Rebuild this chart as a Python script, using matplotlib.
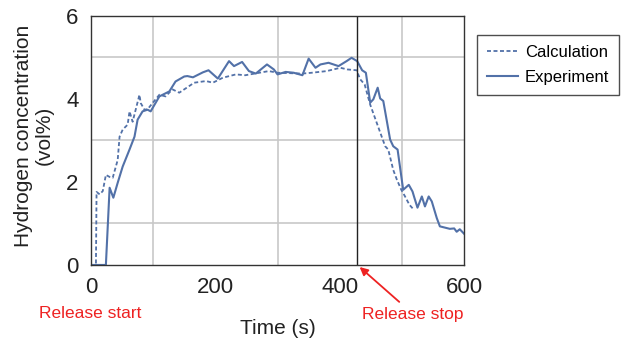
import matplotlib.pyplot as plt

plt.rcParams['font.family'] = ['Liberation Sans', 'DejaVu Sans']

# Experiment (solid line)
t_exp = [0, 24, 30, 36, 43, 51, 62, 70, 75, 83, 91, 96, 110, 126, 136, 150, 155, 164,
         180, 189, 204, 222, 230, 243, 254, 265, 283, 294, 300, 313, 326, 340, 350, 361,
         369, 382, 398, 411, 419, 428, 436, 442, 449, 454, 461, 465, 470, 481, 486, 493,
         502, 511, 517, 520, 525, 532, 537, 543, 548, 556, 561, 577, 584, 588, 593, 600]
v_exp = [0, 0, 1.86, 1.62, 1.98, 2.37, 2.78, 3.09, 3.5, 3.7, 3.74, 3.7, 4.06, 4.18, 4.42,
         4.54, 4.55, 4.52, 4.64, 4.69, 4.49, 4.91, 4.79, 4.89, 4.67, 4.61, 4.83, 4.71, 4.59,
         4.65, 4.63, 4.57, 4.97, 4.75, 4.83, 4.87, 4.79, 4.91, 4.99, 4.91, 4.69, 4.63, 3.91,
         3.99, 4.27, 4.01, 3.95, 3.02, 2.86, 2.78, 1.81, 1.93, 1.77, 1.62, 1.38, 1.65, 1.41,
         1.65, 1.53, 1.13, 0.93, 0.87, 0.88, 0.8, 0.86, 0.75]

# Calculation (dashed line)
t_calc = [0, 8, 9, 14, 19, 24, 30, 35, 43, 46, 51, 59, 62, 67, 78, 80, 86, 91, 110, 120,
          131, 142, 166, 185, 196, 212, 233, 248, 286, 300, 340, 355, 379, 401, 412, 427,
          433, 440, 449, 473, 478, 486, 492, 499, 505, 512, 518]
v_calc = [0, 0, 1.76, 1.7, 1.78, 2.17, 2.12, 2.1, 2.53, 3.09, 3.26, 3.38, 3.7, 3.45, 4.1,
          3.9, 3.74, 3.75, 4.1, 4.06, 4.23, 4.15, 4.39, 4.43, 4.39, 4.51, 4.59, 4.57, 4.67,
          4.63, 4.61, 4.63, 4.67, 4.75, 4.71, 4.69, 4.47, 4.35, 3.86, 2.86, 2.78, 2.29, 2.05,
          1.81, 1.65, 1.45, 1.35]

release_stop = 427
blue = '#5271a8'

fig = plt.figure(figsize=(6.23, 3.45), dpi=100)
ax = fig.add_axes([0.146, 0.232, 0.599, 0.722])

ax.plot(t_calc, v_calc, color=blue, lw=1.3, ls=(0, (2.2, 1.4)), label='Calculation')
ax.plot(t_exp, v_exp, color=blue, lw=1.5, label='Experiment')
ax.axvline(release_stop, color='#222222', lw=1)

ax.set_xlim(0, 600)
ax.set_ylim(0, 6)
ax.set_xticks([0, 200, 400, 600])
ax.set_yticks([0, 2, 4, 6])
ax.set_xticks(range(0, 601, 100), minor=True)
ax.set_yticks(range(0, 7), minor=True)
ax.grid(which='minor', color='#c8c8c8', lw=1.2)
ax.set_axisbelow(True)
ax.tick_params(which='both', length=0, labelsize=16, pad=9, colors='#222222')
for s in ax.spines.values():
    s.set_color('#333333')
    s.set_linewidth(1)

ax.set_xlabel('Time (s)', fontsize=15, color='#222222')
ax.xaxis.set_label_coords(0.5, -0.215)
ax.set_ylabel('Hydrogen concentration\n(vol%)', fontsize=15, color='#222222', linespacing=1.1)
ax.yaxis.set_label_coords(-0.1, 0.52)

ax.legend(loc='upper left', bbox_to_anchor=(0.766, 0.899), bbox_transform=fig.transFigure,
          fontsize=12, frameon=True, fancybox=False, edgecolor='#222222',
          handlelength=1.85, handletextpad=0.4, borderpad=0.6, labelspacing=0.6,
          borderaxespad=0)

fig.text(90 / 623, 1 - 314 / 345, 'Release start', color='#ee2222', fontsize=12.5,
         ha='center', va='center')
ax.annotate('Release stop', xy=(release_stop + 5, -0.05), xycoords='data',
            xytext=(413 / 623, 1 - 314 / 345), textcoords='figure fraction',
            color='#ee2222', fontsize=12.5, ha='center', va='center',
            arrowprops=dict(arrowstyle='-|>', color='#ee2222', lw=1.3,
                            shrinkA=2, shrinkB=0, mutation_scale=12),
            annotation_clip=False)

fig.savefig('out.png', dpi=100)
